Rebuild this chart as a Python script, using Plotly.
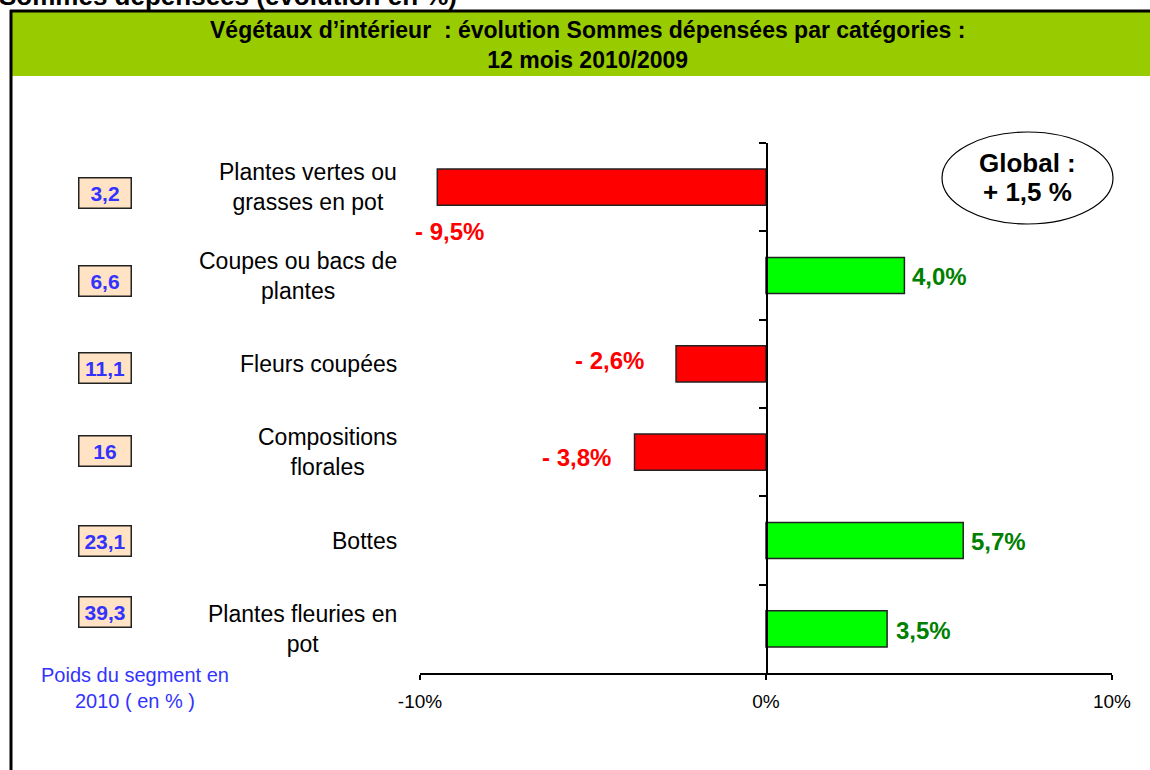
import plotly.graph_objects as go

W, H = 1150, 770

categories = ["Plantes vertes ou<br>grasses en pot", "Coupes ou bacs de<br>plantes", "Fleurs coupées",
              "Compositions<br>florales", "Bottes", "Plantes fleuries en<br>pot"]
evolution = [-9.5, 4.0, -2.6, -3.8, 5.7, 3.5]
evolution_labels = ["- 9,5%", "4,0%", "- 2,6%", "- 3,8%", "5,7%", "3,5%"]
poids_2010 = ["3,2", "6,6", "11,1", "16", "23,1", "39,3"]
x_ticks = [-10, 0, 10]
x_ticktext = ["-10%", "0%", "10%"]

FONT = "Arial, Liberation Sans, sans-serif"


def px_x(x):
    return x / W


def px_y(y):
    return 1 - y / H


colors = ["#FF0000" if v < 0 else "#00FF00" for v in evolution]
cat_ids = list(range(len(categories)))

fig = go.Figure()
fig.add_trace(go.Bar(
    x=evolution, y=cat_ids, orientation="h", width=0.41,
    marker=dict(color=colors, line=dict(color="#222222", width=1.5)),
    hoverinfo="x",
))

# label placement (xanchor, xshift, yshift) per bar
label_pos = [("center", 12, -44), ("left", 6, -1), ("right", -30, 3),
             ("right", -22, -5), ("left", 6, -1), ("left", 7, -2)]
annotations = []
for i, (v, t) in enumerate(zip(evolution, evolution_labels)):
    xa, xs, ys = label_pos[i]
    annotations.append(dict(
        x=v, y=i, xref="x", yref="y", text=f"<b>{t}</b>", showarrow=False,
        xanchor=xa, xshift=xs, yshift=ys,
        font=dict(family=FONT, size=24, color="#FF0000" if v < 0 else "#008000"),
    ))

# category labels (block right-aligned, lines centred)
for i, c in enumerate(categories):
    annotations.append(dict(
        x=px_x(399), y=i, xref="paper", yref="y", text=c, showarrow=False,
        xanchor="right", align="center", font=dict(family=FONT, size=23, color="black"),
    ))

# segment weight boxes
box_y = [193, 281, 368, 451, 541, 612]
for p, by in zip(poids_2010, box_y):
    annotations.append(dict(
        x=px_x(105), y=px_y(by), xref="paper", yref="paper", text=f"<b>{p}</b>",
        showarrow=False, xanchor="center", yanchor="middle", width=51, height=29,
        bgcolor="#FFE3C4", bordercolor="#222222", borderwidth=1.5, borderpad=0,
        font=dict(family=FONT, size=21, color="#3333FF"),
    ))

annotations += [
    dict(x=px_x(135), y=px_y(688), xref="paper", yref="paper",
         text="Poids du segment en<br>2010 ( en % )", showarrow=False,
         xanchor="center", yanchor="middle", align="center",
         font=dict(family=FONT, size=20, color="#3333FF")),
    dict(x=px_x(1027), y=px_y(163), xref="paper", yref="paper",
         text="<b>Global :</b>", showarrow=False, xanchor="center", yanchor="middle",
         font=dict(family=FONT, size=26, color="black")),
    dict(x=px_x(1027), y=px_y(192), xref="paper", yref="paper",
         text="<b>+ 1,5 %</b>", showarrow=False, xanchor="center", yanchor="middle",
         font=dict(family=FONT, size=26, color="black")),
    dict(x=px_x(587), y=px_y(44.5), xref="paper", yref="paper",
         text="<b>Végétaux d’intérieur  : évolution Sommes dépensées par catégories :<br>12 mois 2010/2009</b>",
         showarrow=False, xanchor="center", yanchor="middle", align="center",
         font=dict(family=FONT, size=23, color="black")),
    dict(x=px_x(-2), y=px_y(12), xref="paper", yref="paper",
         text="<b>Sommes dépensées (évolution en %)</b>", showarrow=False, borderpad=0,
         xanchor="left", yanchor="bottom", font=dict(family=FONT, size=26, color="black")),
]

shapes = [
    dict(type="rect", xref="paper", yref="paper", x0=px_x(12), x1=1.01, y0=px_y(76), y1=px_y(11),
         fillcolor="#99CC00", line=dict(width=0), layer="below"),
    dict(type="line", xref="paper", yref="paper", x0=px_x(10), x1=1.01, y0=px_y(11), y1=px_y(11),
         line=dict(color="black", width=3)),
    dict(type="line", xref="paper", yref="paper", x0=px_x(11), x1=px_x(11), y0=px_y(10), y1=-0.01,
         line=dict(color="black", width=3)),
    dict(type="circle", xref="paper", yref="paper", x0=px_x(942), x1=px_x(1113),
         y0=px_y(224), y1=px_y(132), line=dict(color="black", width=1.2), fillcolor="white",
         layer="below"),
]

fig.update_layout(
    width=W, height=H, margin=dict(l=0, r=0, t=0, b=0, pad=0),
    paper_bgcolor="white", plot_bgcolor="rgba(0,0,0,0)", showlegend=False,
    font=dict(family=FONT, color="black"),
    xaxis=dict(domain=[px_x(420), px_x(1112)], range=[-10, 10], tickvals=x_ticks, ticktext=x_ticktext,
               showgrid=False, zeroline=False, showline=True, linecolor="black", linewidth=1.5,
               ticks="outside", ticklen=5, tickcolor="black", tickwidth=1.5, automargin=False,
               tickfont=dict(family=FONT, size=19, color="black"), ticklabelstandoff=5),
    yaxis=dict(domain=[px_y(673), px_y(143)], range=[5.5, -0.5], anchor="free", position=px_x(767),
               tickmode="array", tickvals=[-0.5, 0.5, 1.5, 2.5, 3.5, 4.5], showticklabels=False,
               showgrid=False, zeroline=False, showline=True, linecolor="black", linewidth=1.5,
               ticks="outside", ticklen=7, tickcolor="black", tickwidth=1.5, automargin=False),
    annotations=annotations, shapes=shapes,
)

fig.write_html("out.html", config={"displayModeBar": False},
               post_script="document.body.style.margin = '0';")
